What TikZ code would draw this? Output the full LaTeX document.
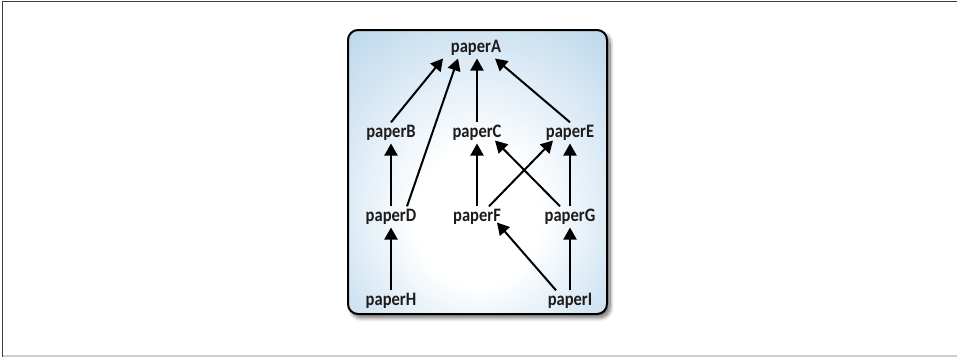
\documentclass[tikz,border=0pt]{standalone}
\usepackage{fontspec}
\setmainfont{Carlito}[FakeStretch=0.87]
\usetikzlibrary{arrows.meta,shadows.blur}

\definecolor{panelblue}{RGB}{166,203,230}
\definecolor{inkdark}{RGB}{30,27,28}
\definecolor{framedark}{RGB}{60,60,60}
\definecolor{framelight}{RGB}{205,205,205}

% soft glow: white centre, slightly below middle, fading to blue at the edges
\pgfdeclareradialshading{panelglow}{\pgfpoint{0bp}{-10bp}}{%
  color(0bp)=(white); color(12bp)=(white); color(46bp)=(panelblue); color(60bp)=(panelblue)}

\tikzset{
  paper/.style={font=\fontsize{19}{22}\selectfont\bfseries, text=inkdark,
    anchor=base, inner sep=0pt, outer xsep=0pt, outer ysep=3pt,
    text height=11.7pt, text depth=3.5pt},
  link/.style={draw=black, line width=2pt,
    -{Triangle[length=12pt,width=13pt]}},
  panel/.style={draw=black, line width=2pt, rounded corners=10pt,
    shading=panelglow,
    blur shadow={shadow xshift=3pt, shadow yshift=-3.5pt,
      shadow blur radius=4pt, shadow blur steps=10, shadow opacity=60}},
}

\begin{document}
\begin{tikzpicture}[x=1pt,y=-1pt]
\useasboundingbox (0,0) rectangle (957,357);

% page frame
\draw[framedark, line width=1.3pt] (2.5,357) -- (2.5,1.5) -- (957,1.5);
\draw[framelight, line width=1.3pt] (2.5,356) -- (957,356);

% panel
\path[panel] (348,30) rectangle (607,314);

% papers
\node[paper] (A) at (476,52)  {paperA};
\node[paper] (B) at (391,137) {paperB};
\node[paper] (C) at (477,137) {paperC};
\node[paper] (E) at (570,137) {paperE};
\node[paper] (D) at (391,221) {paperD};
\node[paper] (F) at (477,221) {paperF};
\node[paper] (G) at (570,221) {paperG};
\node[paper] (H) at (391,305) {paperH};
\node[paper] (I) at (570,305) {paperI};

% citations
\draw[link] (B.north) -- ([xshift=-33pt]A.south);
\draw[link] ([xshift=16pt]D.north) -- ([xshift=-18pt]A.south);
\draw[link] (C.north) -- ([xshift=1pt]A.south);
\draw[link] (E.north) -- ([xshift=19pt]A.south);
\draw[link] (D.north) -- (B.south);
\draw[link] (F.north) -- (C.south);
\draw[link] ([xshift=12pt]F.north) -- ([xshift=-17pt,yshift=3pt]E.south);
\draw[link] ([xshift=-10pt]G.north) -- ([xshift=18pt,yshift=3pt]C.south);
\draw[link] (G.north) -- (E.south);
\draw[link] (H.north) -- (D.south);
\draw[link] ([xshift=-14pt]I.north) -- ([xshift=20pt,yshift=5pt]F.south);
\draw[link] (I.north) -- (G.south);
\end{tikzpicture}
\end{document}
